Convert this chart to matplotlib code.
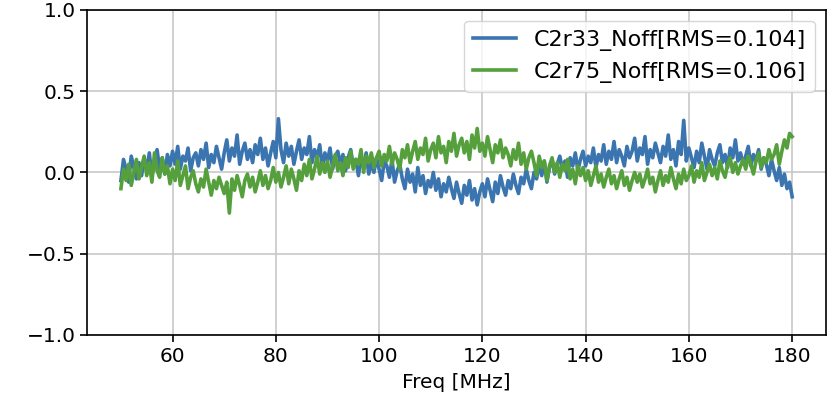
import numpy as np
import matplotlib
matplotlib.use("Agg")
import matplotlib.pyplot as plt

# frequency axis, 0.5 MHz steps from 50 to 180 MHz
freq = np.arange(50, 180.25, 0.5)

labels = ["C2r33_Noff[RMS=0.104]", "C2r75_Noff[RMS=0.106]"]

c2r33 = [
    -0.05, 0.08, 0.02, -0.06, 0.10, 0.03, -0.04, 0.06, -0.02, 0.09,
    0.01, 0.12, -0.03, 0.07, 0.14, 0.02, 0.09, -0.01, 0.11, 0.04,
    0.13, 0.05, 0.16, 0.02, 0.10, 0.07, 0.15, 0.01, 0.09, 0.12,
    0.04, 0.14, 0.08, 0.18, 0.03, 0.11, 0.06, 0.16, 0.09, 0.02,
    0.12, 0.20, 0.07, 0.15, 0.10, 0.23, 0.05, 0.13, 0.18, 0.08,
    0.14, 0.06, 0.17, 0.11, 0.21, 0.08, 0.15, 0.04, 0.12, 0.19,
    0.09, 0.33, 0.14, 0.06, 0.18, 0.10, 0.16, 0.05, 0.13, 0.20,
    0.08, 0.15, 0.11, 0.22, 0.06, 0.14, 0.09, 0.17, 0.03, 0.12,
    0.07, 0.15, 0.02, 0.10, 0.13, 0.05, 0.11, 0.01, 0.09, 0.14,
    0.04, 0.08, -0.02, 0.10, 0.03, 0.12, -0.01, 0.06, 0.00, 0.09,
    0.02, -0.05, 0.07, 0.04, -0.03, 0.08, -0.06, 0.01, 0.05, -0.04,
    -0.10, 0.02, -0.06, -0.01, -0.12, 0.03, -0.08, -0.02, -0.13, -0.05,
    -0.09, 0.00, -0.11, -0.04, -0.15, -0.07, -0.12, -0.03, -0.10, -0.16,
    -0.06, -0.13, -0.19, -0.08, -0.14, -0.05, -0.17, -0.10, -0.20, -0.12,
    -0.07, -0.15, -0.04, -0.11, -0.18, -0.06, -0.13, -0.02, -0.09, -0.14,
    -0.05, -0.10, -0.01, -0.08, -0.13, -0.03, -0.07, 0.02, -0.05, -0.10,
    0.00, -0.04, 0.05, -0.02, 0.07, -0.06, 0.03, 0.08, -0.01, 0.05,
    0.10, 0.02, 0.07, -0.03, 0.09, 0.04, 0.12, 0.01, 0.08, 0.13,
    0.04, 0.10, 0.06, 0.15, 0.03, 0.11, 0.07, 0.17, 0.05, 0.13,
    0.08, 0.19, 0.06, 0.14, 0.10, 0.04, 0.16, 0.09, 0.13, 0.21,
    0.07, 0.15, 0.11, 0.22, 0.05, 0.14, 0.09, 0.18, 0.12, 0.06,
    0.16, 0.10, 0.23, 0.08, 0.14, 0.04, 0.19, 0.11, 0.32, 0.07,
    0.15, 0.09, 0.03, 0.13, 0.06, 0.18, 0.10, 0.02, 0.14, 0.08,
    0.04, 0.12, 0.17, 0.06, 0.11, 0.03, 0.15, 0.09, 0.20, 0.07,
    0.12, 0.05, 0.10, 0.16, 0.04, 0.11, 0.07, 0.14, 0.02, 0.09,
    0.05, -0.02, 0.08, 0.01, -0.05, 0.03, -0.08, -0.01, -0.10, -0.06,
    -0.15,
]

c2r75 = [
    -0.10, 0.02, -0.05, 0.05, -0.08, 0.00, 0.08, -0.04, 0.03, 0.10,
    -0.02, 0.06, -0.06, 0.12, 0.01, -0.03, 0.09, -0.01, 0.04, -0.07,
    0.02, -0.05, 0.07, -0.08, -0.02, 0.04, -0.10, -0.03, 0.01, -0.07,
    -0.12, -0.04, -0.09, 0.02, -0.06, -0.14, -0.05, -0.10, -0.03, -0.08,
    -0.13, -0.06, -0.25, -0.04, -0.11, -0.02, -0.08, -0.15, -0.05, -0.01,
    -0.09, -0.03, -0.12, -0.06, 0.01, -0.08, -0.02, -0.10, -0.05, 0.03,
    -0.06, 0.00, -0.09, -0.03, 0.04, -0.07, 0.02, -0.04, -0.11, 0.01,
    -0.05, 0.05, -0.02, 0.08, -0.04, 0.02, 0.10, -0.01, 0.06, 0.00,
    0.07, -0.03, 0.04, 0.11, 0.01, 0.06, -0.02, 0.09, 0.03, 0.13,
    0.02, 0.08, 0.05, 0.14, 0.00, 0.10, 0.06, 0.12, 0.03, 0.09,
    0.13, 0.04, 0.11, 0.07, 0.16, 0.05, 0.12, 0.08, 0.02, 0.14,
    0.09, 0.17, 0.06, 0.13, 0.19, 0.08, 0.15, 0.11, 0.21, 0.07,
    0.14, 0.18, 0.09, 0.22, 0.12, 0.16, 0.06, 0.19, 0.13, 0.24,
    0.10, 0.17, 0.21, 0.12, 0.19, 0.08, 0.23, 0.15, 0.27, 0.13,
    0.18, 0.10, 0.22, 0.14, 0.06, 0.17, 0.12, 0.20, 0.09, 0.15,
    0.11, 0.04, 0.14, 0.08, 0.18, 0.05, 0.12, 0.02, 0.09, 0.13,
    0.06, -0.02, 0.10, 0.03, 0.07, -0.05, 0.04, 0.09, 0.00, 0.06,
    -0.03, 0.05, 0.01, 0.08, -0.04, 0.02, -0.07, 0.04, -0.02, 0.03,
    -0.05, 0.01, -0.08, -0.02, 0.04, -0.06, -0.01, -0.09, -0.03, 0.02,
    -0.07, -0.02, -0.10, -0.04, 0.01, -0.08, -0.03, -0.11, -0.05, 0.00,
    -0.06, -0.01, -0.09, -0.04, 0.02, -0.07, -0.03, -0.12, -0.05, 0.01,
    -0.08, -0.02, -0.06, 0.03, -0.04, -0.10, -0.01, -0.07, 0.02, -0.05,
    -0.02, 0.04, -0.06, 0.01, -0.03, 0.06, -0.05, 0.00, 0.05, -0.02,
    0.03, -0.04, 0.07, 0.01, -0.03, 0.05, 0.09, 0.00, 0.06, -0.01,
    0.04, 0.08, 0.02, 0.10, 0.05, -0.01, 0.07, 0.12, 0.03, 0.09,
    0.06, 0.14, 0.08, 0.11, 0.17, 0.05, 0.13, 0.20, 0.15, 0.24,
    0.22,
]

fig = plt.figure(figsize=(8.4, 4.09), dpi=100)
ax = fig.add_axes([0.104, 0.181, 0.879, 0.795])

ax.plot(freq, c2r33, color="#3a75b0", lw=2.6, label=labels[0])
ax.plot(freq, c2r75, color="#55a03c", lw=2.6, label=labels[1])

ax.set_ylim(-1, 1)
ax.set_yticks([-1.0, -0.5, 0.0, 0.5, 1.0])
ax.grid(True, color="#c8c8c8", lw=1.2)
ax.tick_params(labelsize=14.5, width=1.2, length=5)
for s in ax.spines.values():
    s.set_linewidth(1.2)
ax.set_xlabel("Freq [MHz]", fontsize=14.5, labelpad=5)
ax.legend(loc="upper right", fontsize=16, handlelength=1.9)

fig.savefig("out.png", dpi=100)
